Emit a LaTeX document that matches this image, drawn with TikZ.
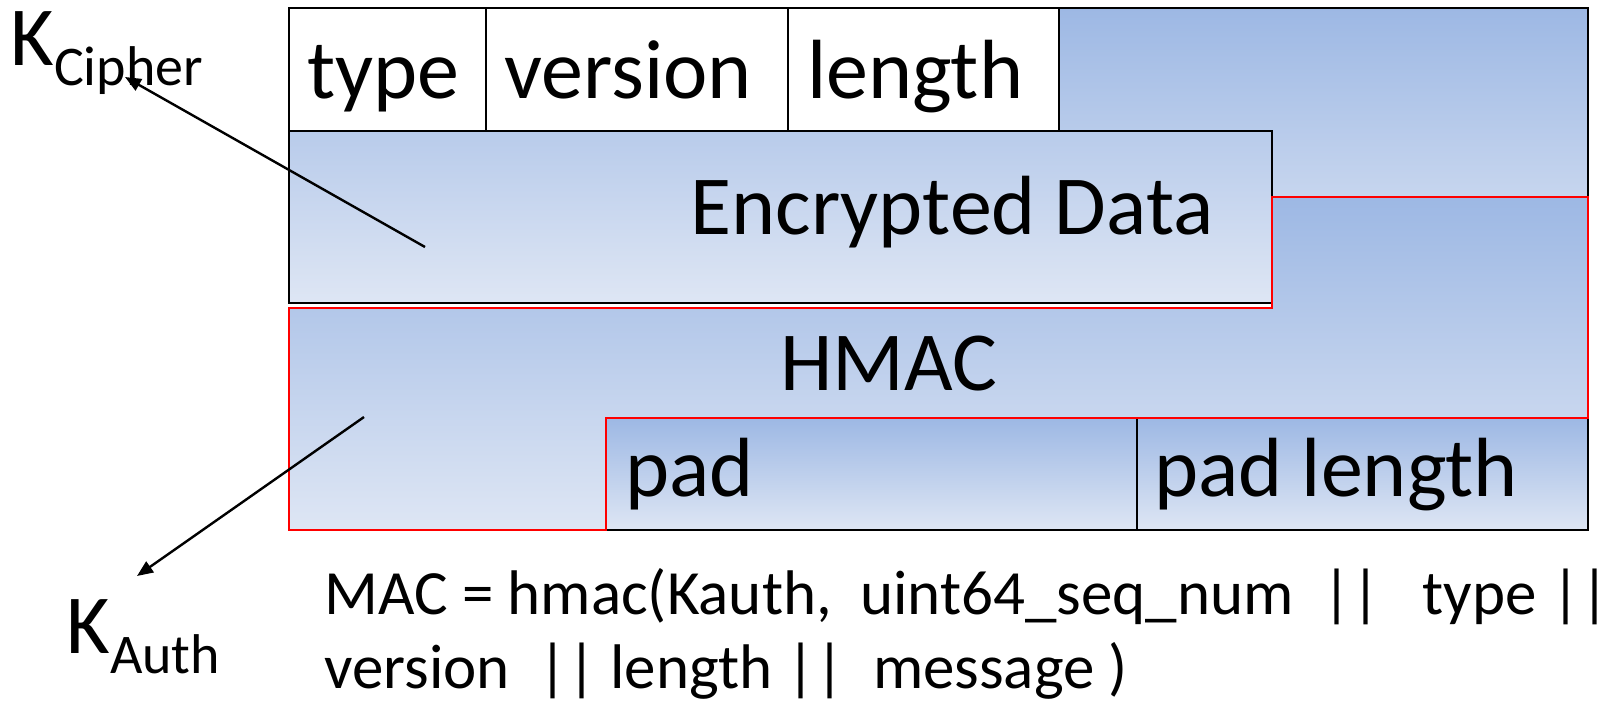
\documentclass[tikz,border=0pt]{standalone}
\usepackage{fontspec}
\setmainfont{Carlito}
\usetikzlibrary{arrows.meta}
\definecolor{gtop}{RGB}{157,184,228}
\definecolor{gbot}{RGB}{222,230,244}
\newcommand\subk[1]{\raisebox{-10pt}{\fontsize{28}{34}\selectfont #1}}
\begin{document}
\begin{tikzpicture}[x=0.5pt,y=-0.5pt,
  box/.style={draw=black,line width=1.4pt},
  grad/.style={top color=gtop,bottom color=gbot},
  redbox/.style={draw=red,line width=1.3pt},
  bigtxt/.style={inner sep=0pt,font=\fontsize{42}{50}\selectfont},
  mactxt/.style={inner sep=0pt,font=\fontsize{31.5}{37}\selectfont,anchor=base west},
  keyarrow/.style={line width=1.2pt,-{Triangle[length=8pt,width=6.5pt]}}]
\useasboundingbox (0,0) rectangle (1620,702);
% record body
\path[grad,box] (289,8) rectangle (1588,303);
\path[box,fill=white] (289,8) rectangle (486,131);
\path[box,fill=white] (486,8) rectangle (788,131);
\path[box,fill=white] (788,8) rectangle (1059,131);
\draw[box] (289,131) rectangle (1272,303);
% pad cells
\path[grad,box] (606,418) rectangle (1137,530);
\path[grad,box] (1137,418) rectangle (1588,530);
% HMAC region
\path[grad,redbox] (289,308) -- (1272,308) -- (1272,197) -- (1588,197) -- (1588,418) -- (606,418) -- (606,530) -- (289,530) -- cycle;
% texts
\node[bigtxt,anchor=base west] (ttype) at (307,98) {type};
\node[bigtxt,anchor=base west] (tversion) at (504,98) {version};
\node[bigtxt,anchor=base west] (tlength) at (807,98) {length};
\node[bigtxt,anchor=base] (enc) at (952,234) {Encrypted Data};
\node[bigtxt,anchor=base] (hmac) at (889,390) {HMAC};
\node[bigtxt,anchor=base west] (pad) at (625,496) {pad};
\node[bigtxt,anchor=base west] (padlen) at (1154,496) {pad length};
\node[mactxt] (mac1) at (324,614) {MAC = hmac(Kauth,\ \ uint64\_seq\_num\ \ ||\ \ \ type ||};
\node[mactxt] (mac2) at (324,688) {version\ \ || length ||\ \ message )};
\node[bigtxt,anchor=base west] (kc) at (10,65) {K\subk{Cipher}};
\node[bigtxt,anchor=base west] (ka) at (66,653) {K\subk{Auth}};
% key arrows
\coordinate (kcs) at (425,247);
\coordinate (kct) at (125,77);
\coordinate (kas) at (364,417);
\coordinate (kat) at (137,576);
\draw[keyarrow] (kcs) -- (kct);
\draw[keyarrow] (kas) -- (kat);
\end{tikzpicture}
\end{document}
